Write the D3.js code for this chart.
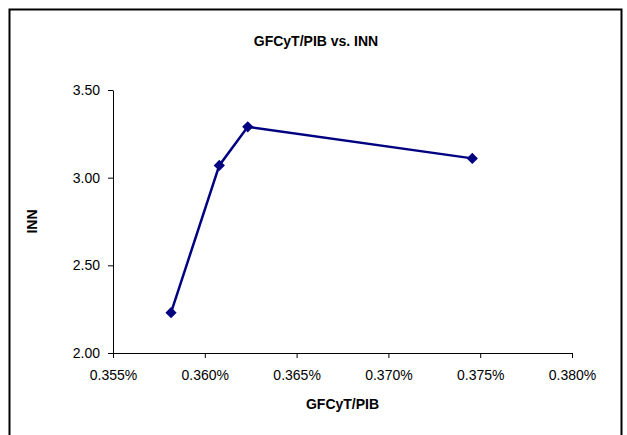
<!DOCTYPE html>
<html>
<head>
<meta charset="utf-8">
<script src="https://cdn.jsdelivr.net/npm/d3@7"></script>
<style>
  body { margin: 0; background: #fff; }
  text { font-family: "Liberation Sans", Arial, sans-serif; }
</style>
</head>
<body>
<script>
// data (x is GFCyT/PIB in %, y is INN)
const gfcyt = [0.35816, 0.36079, 0.36234, 0.37457];
const inn = [2.23, 3.07, 3.29, 3.11];
const xTicks = [0.355, 0.360, 0.365, 0.370, 0.375, 0.380];
const yTicks = [2.00, 2.50, 3.00, 3.50];

let width = 627, height = 435;
let plot = {left: 113, right: 572, top: 90, bottom: 353};
let fontSize = 14;

let svg = d3.select('body')
    .append('svg')
    .attr('width', width)
    .attr('height', height);

// outer chart border
svg.append('rect')
    .attr('x', 9.5).attr('y', 9.5)
    .attr('width', 612).attr('height', 440)
    .attr('fill', 'white')
    .attr('stroke', 'black')
    .attr('stroke-width', 2);

let xScale = d3.scaleLinear()
    .domain([0.355, 0.380])
    .range([plot.left, plot.right]);

let yScale = d3.scaleLinear()
    .domain([2.0, 3.5])
    .range([plot.bottom, plot.top]);

let xAxis = d3.axisBottom(xScale)
    .tickValues(xTicks)
    .tickSizeInner(5)
    .tickSizeOuter(0)
    .tickPadding(12)
    .tickFormat(d => d.toFixed(3) + '%');

let yAxis = d3.axisLeft(yScale)
    .tickValues(yTicks)
    .tickSizeInner(5)
    .tickSizeOuter(0)
    .tickPadding(8)
    .tickFormat(d3.format('.2f'));

let gx = svg.append('g')
    .attr('transform', 'translate(0,' + plot.bottom + ')')
    .call(xAxis);
gx.selectAll('text').attr('font-size', fontSize).attr('fill', 'black');

let gy = svg.append('g')
    .attr('transform', 'translate(' + plot.left + ',0)')
    .call(yAxis);
gy.selectAll('text').attr('font-size', fontSize).attr('fill', 'black');

svg.selectAll('.domain, .tick line')
    .attr('stroke', 'black')
    .attr('stroke-width', 1);

// line + markers
let pts = gfcyt.map((x, i) => [x, inn[i]]);
let line = d3.line()
    .x(d => xScale(d[0]))
    .y(d => yScale(d[1]));

svg.append('path')
    .datum(pts)
    .attr('d', line)
    .attr('fill', 'none')
    .attr('stroke', '#000080')
    .attr('stroke-width', 2.5);

svg.selectAll('.marker')
    .data(pts)
    .enter()
    .append('path')
    .attr('class', 'marker')
    .attr('d', d3.symbol().type(d3.symbolDiamond2).size(80))
    .attr('transform', d => 'translate(' + xScale(d[0]) + ',' + yScale(d[1]) + ')')
    .attr('fill', '#000080');

// titles
svg.append('text')
    .attr('x', 316).attr('y', 46)
    .attr('text-anchor', 'middle')
    .attr('font-size', fontSize)
    .attr('font-weight', 'bold')
    .text('GFCyT/PIB vs. INN');

svg.append('text')
    .attr('x', (plot.left + plot.right) / 2).attr('y', 409)
    .attr('text-anchor', 'middle')
    .attr('font-size', fontSize)
    .attr('font-weight', 'bold')
    .text('GFCyT/PIB');

svg.append('text')
    .attr('transform', 'translate(37,' + ((plot.top + plot.bottom) / 2) + ') rotate(-90)')
    .attr('text-anchor', 'middle')
    .attr('font-size', fontSize)
    .attr('font-weight', 'bold')
    .text('INN');
</script>
</body>
</html>
